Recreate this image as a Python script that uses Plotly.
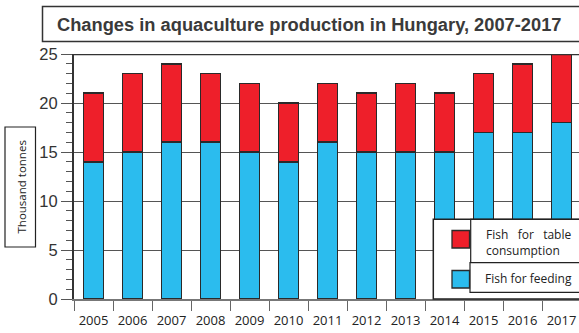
import plotly.graph_objects as go

years = ["2005", "2006", "2007", "2008", "2009", "2010", "2011",
         "2012", "2013", "2014", "2015", "2016", "2017"]
fish_feeding = [14, 15, 16, 16, 15, 14, 16, 15, 15, 15, 17, 17, 18]
fish_table = [7, 8, 8, 7, 7, 6, 6, 6, 7, 6, 6, 7, 7]
name_table = "Fish for table consumption"
name_feeding = "Fish for feeding"
title_text = "Changes in aquaculture production in Hungary, 2007-2017"
y_title = "Thousand tonnes"

RED = "#EE1F2A"
BLUE = "#2BBCEE"
EDGE = "#2a2a2a"

W, H = 579, 333
L, R, T, B = 74, 0, 54, 34
PW, PH = W - L - R, H - T - B


def px(x):
    return (x - L) / PW


def py(y):
    return (H - B - y) / PH


fig = go.Figure()
fig.add_trace(go.Bar(x=years, y=fish_feeding, name=name_feeding,
                     marker=dict(color=BLUE, line=dict(color=EDGE, width=1.6)),
                     width=0.515))
fig.add_trace(go.Bar(x=years, y=fish_table, name=name_table,
                     marker=dict(color=RED, line=dict(color=EDGE, width=1.6)),
                     width=0.515))

shapes = []
annotations = []
# top border of plot
shapes.append(dict(type="line", xref="paper", yref="y", x0=0, x1=1.01, y0=25, y1=25,
                   line=dict(color="#333", width=2.5)))
# title box
shapes.append(dict(type="rect", xref="paper", yref="paper", x0=px(42.5), x1=px(585),
                   y0=py(41.5), y1=py(6.5), line=dict(color="#333", width=1.5),
                   fillcolor="white", layer="above"))
annotations.append(dict(text="<b>" + title_text + "</b>", xref="paper", yref="paper",
                        x=px(309), y=py(24), xanchor="center", yanchor="middle",
                        showarrow=False,
                        font=dict(family="Liberation Sans, Arial", size=18.3, color="#3a3a3a")))
# y title box
shapes.append(dict(type="rect", xref="paper", yref="paper", x0=px(5), x1=px(35.5),
                   y0=py(247), y1=py(127), line=dict(color="#222", width=1.2)))
annotations.append(dict(text=y_title, xref="paper", yref="paper", x=px(20.5), y=py(187),
                        textangle=-90, showarrow=False, xanchor="center", yanchor="middle",
                        font=dict(family="Open Sans", size=11.5, color="#222")))
# legend
shapes.append(dict(type="rect", xref="paper", yref="paper", x0=px(433.3), x1=px(590),
                   y0=py(299), y1=py(219.3), line=dict(color="#222", width=1.5),
                   fillcolor="white", layer="above"))
shapes.append(dict(type="rect", xref="paper", yref="paper", x0=px(470.7), x1=px(590),
                   y0=py(262.7), y1=py(219.3), line=dict(color="#222", width=1.2),
                   fillcolor="white", layer="above"))
shapes.append(dict(type="rect", xref="paper", yref="paper", x0=px(470), x1=px(590),
                   y0=py(292.3), y1=py(262.7), line=dict(color="#222", width=1.2),
                   fillcolor="white", layer="above"))
shapes.append(dict(type="rect", xref="paper", yref="paper", x0=px(452), x1=px(469.5),
                   y0=py(248), y1=py(230.5), line=dict(color=EDGE, width=1.3),
                   fillcolor=RED, layer="above"))
shapes.append(dict(type="rect", xref="paper", yref="paper", x0=px(452), x1=px(469.5),
                   y0=py(288), y1=py(270.5), line=dict(color=EDGE, width=1.3),
                   fillcolor=BLUE, layer="above"))
annotations.append(dict(text="Fish&nbsp;&nbsp;&nbsp;for&nbsp;&nbsp;&nbsp;table<br>consumption",
                        xref="paper", yref="paper", x=px(484), y=py(242), align="left",
                        xanchor="left", yanchor="middle", showarrow=False,
                        font=dict(family="Open Sans", size=12, color="#222")))
annotations.append(dict(text=name_feeding, xref="paper", yref="paper", x=px(483), y=py(278),
                        xanchor="left", yanchor="middle", showarrow=False,
                        font=dict(family="Open Sans", size=12, color="#222")))

fig.update_layout(
    barmode="stack", width=W, height=H,
    margin=dict(l=L, r=R, t=T, b=B, pad=0, autoexpand=False),
    paper_bgcolor="white", plot_bgcolor="white",
    showlegend=False, shapes=shapes, annotations=annotations,
    xaxis=dict(type="category", range=[-0.5, -0.5 + PW / 39.0], tickson="boundaries",
               automargin=False, tickangle=0, ticklabelstandoff=9,
               ticks="outside", ticklen=10, tickcolor="#666", tickwidth=1.2,
               showline=True, linecolor="#777", linewidth=1.5, showgrid=False,
               tickfont=dict(family="Open Sans", size=13, color="#222")),
    yaxis=dict(range=[0, 25], tickvals=[0, 5, 10, 15, 20, 25], ticks="outside",
               automargin=False,
               ticklen=11, tickcolor="#555", tickwidth=1.2,
               showline=True, linecolor="#333", linewidth=2,
               showgrid=True, gridcolor="#555", gridwidth=1.2, zeroline=False,
               minor=dict(dtick=1, ticks="outside", ticklen=6, tickcolor="#555",
                          tickwidth=1.2, showgrid=False),
               tickfont=dict(family="Liberation Sans Narrow, Arial Narrow, sans-serif",
                             size=16.5, color="#333")),
)

fig.write_html("out.html")
